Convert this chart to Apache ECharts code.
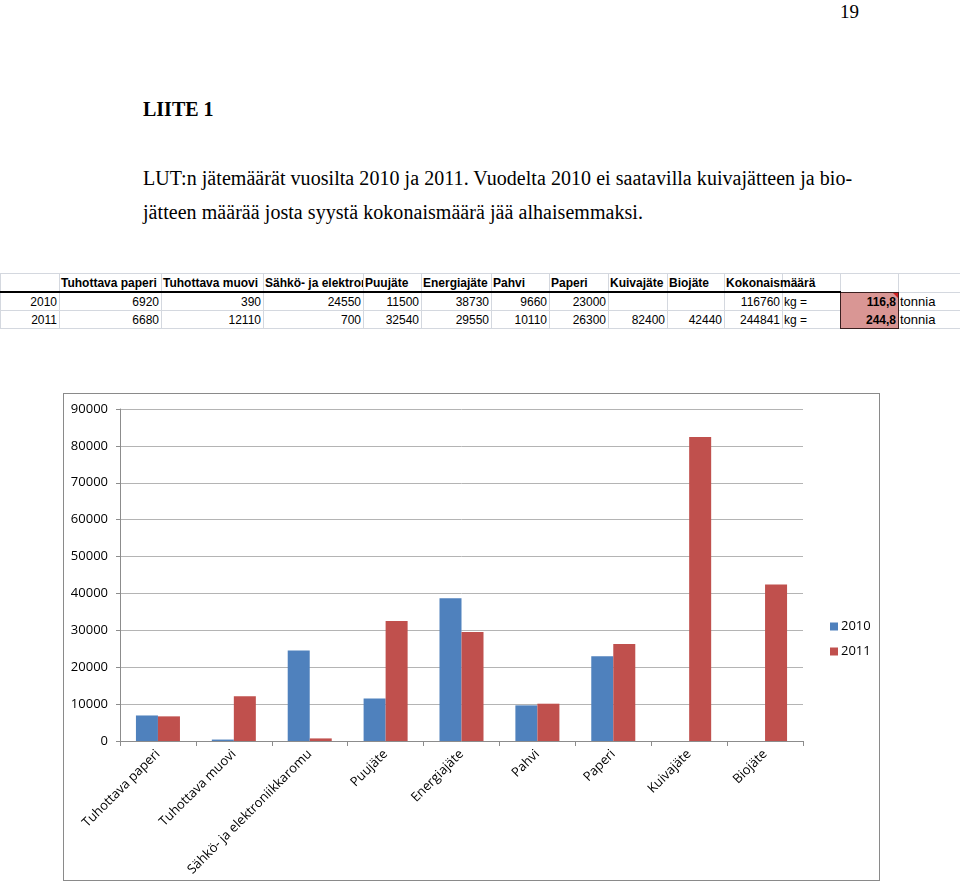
<!DOCTYPE html>
<html>
<head>
<meta charset="utf-8">
<script src="https://cdn.jsdelivr.net/npm/echarts@6/dist/echarts.min.js"></script>
<style>
  html, body { margin: 0; padding: 0; background: #fff; }
  body { width: 960px; height: 882px; position: relative; overflow: hidden; }
  .serif { position: absolute; font-family: "Liberation Serif", "Times New Roman", serif; color: #000; line-height: 1; white-space: nowrap; }
  .cell { position: absolute; box-sizing: border-box; font-family: "Liberation Sans", Arial, sans-serif; font-size: 12px; line-height: 18px; height: 18px; white-space: nowrap; color: #000; padding: 0 2px; }
  .gl { position: absolute; background: #d4d8df; }
  #chart { position: absolute; left: 63px; top: 393px; width: 815px; height: 486px; border: 1px solid #8a8a8a; box-sizing: content-box; }
</style>
</head>
<body>
<div class="serif" style="left:840px; top:2px; font-size:19px;">19</div>
<div class="serif" style="left:143px; top:99px; font-size:20px; font-weight:bold;">LIITE 1</div>
<div class="serif" id="p1" style="left:143px; top:168px; font-size:20px; letter-spacing:0.05px;">LUT:n jätemäärät vuosilta 2010 ja 2011. Vuodelta 2010 ei saatavilla kuivajätteen ja bio-</div>
<div class="serif" id="p2" style="left:143px; top:202px; font-size:20px; letter-spacing:0.05px;">jätteen määrää josta syystä kokonaismäärä jää alhaisemmaksi.</div>
<div id="table"></div>
<div id="chart"></div>
<script>
// ---- data ----
const categories = ['Tuhottava paperi', 'Tuhottava muovi', 'Sähkö- ja elektroniikkaromu', 'Puujäte', 'Energiajäte', 'Pahvi', 'Paperi', 'Kuivajäte', 'Biojäte'];
const years = ['2010', '2011'];
const values2010 = [6920, 390, 24550, 11500, 38730, 9660, 23000, null, null];
const values2011 = [6680, 12110, 700, 32540, 29550, 10110, 26300, 82400, 42440];
const totalsKg = [116760, 244841];
const totalsTonnes = ['116,8', '244,8'];
const yTicks = [0, 10000, 20000, 30000, 40000, 50000, 60000, 70000, 80000, 90000];

// ---- table ----
(function buildTable() {
  const cols = [0, 59, 161, 263, 363, 421, 491, 549, 608, 667, 724, 782, 840, 898, 960];
  const rows = [273, 292, 310, 328];
  const t = document.getElementById('table');
  function add(html) { t.insertAdjacentHTML('beforeend', html); }
  rows.forEach(y => add(`<div class="gl" style="left:0;top:${y}px;width:960px;height:1px"></div>`));
  cols.forEach(x => add(`<div class="gl" style="left:${x}px;top:${rows[0]}px;width:1px;height:${rows[3]-rows[0]}px"></div>`));
  add(`<div style="position:absolute;left:840px;top:292px;width:59px;height:37px;background:#d99694;box-sizing:border-box;border:1.5px solid #3a2020"></div>`);
  add(`<div style="position:absolute;left:893px;top:293px;width:0;height:0;border-left:5px solid transparent;border-top:5px solid #d02020"></div>`);
  add(`<div style="position:absolute;left:0;top:291px;width:841px;height:2px;background:#000"></div>`);
  const headers = categories.concat(['Kokonaismäärä']);
  headers.forEach((h, i) => {
    const x0 = cols[i + 1], x1 = cols[i + 2];
    const clip = (i === 2) ? 'overflow:hidden;' : '';
    const w = (i === 9) ? 120 : (x1 - x0);
    add(`<div class="cell" style="left:${x0}px;top:${rows[0]+1}px;width:${w}px;font-weight:bold;${clip}">${h}</div>`);
  });
  const data = [values2010, values2011];
  years.forEach((yr, r) => {
    const top = rows[r + 1] + 1;
    add(`<div class="cell" style="left:0;top:${top}px;width:59px;text-align:right">${yr}</div>`);
    data[r].forEach((v, i) => {
      if (v == null) return;
      add(`<div class="cell" style="left:${cols[i+1]}px;top:${top}px;width:${cols[i+2]-cols[i+1]}px;text-align:right">${v}</div>`);
    });
    add(`<div class="cell" style="left:724px;top:${top}px;width:58px;text-align:right">${totalsKg[r]}</div>`);
    add(`<div class="cell" style="left:782px;top:${top}px;width:58px">kg =</div>`);
    add(`<div class="cell" style="left:840px;top:${top}px;width:58px;text-align:right;font-weight:bold">${totalsTonnes[r]}</div>`);
    add(`<div class="cell" style="left:898px;top:${top}px;width:62px;font-size:13px">tonnia</div>`);
  });
})();

// ---- chart ----
const chart = echarts.init(document.getElementById('chart'), null, { renderer: 'canvas' });
const font = '"Open Sans", sans-serif';
chart.setOption({
  animation: false,
  backgroundColor: '#fff',
  textStyle: { fontFamily: font },
  grid: { left: 56, top: 15, width: 683, height: 332, containLabel: false },
  legend: {
    orient: 'vertical', left: 761, top: 221, itemWidth: 8, itemHeight: 8, itemGap: 12,
    icon: 'rect', data: years,
    textStyle: { fontFamily: font, fontSize: 13, color: '#000', padding: [0, 0, 0, -2] }
  },
  xAxis: {
    type: 'category', data: categories,
    axisLine: { lineStyle: { color: '#8c8c8c', width: 1 } },
    axisTick: { show: true, length: 5, lineStyle: { color: '#8c8c8c' } },
    axisLabel: { rotate: 45, interval: 0, margin: 11, fontFamily: font, fontSize: 13, color: '#000' }
  },
  yAxis: {
    type: 'value', min: yTicks[0], max: yTicks[yTicks.length - 1], interval: yTicks[1] - yTicks[0],
    axisLine: { show: true, lineStyle: { color: '#8c8c8c', width: 1 } },
    axisTick: { show: true, length: 4, lineStyle: { color: '#8c8c8c' } },
    splitLine: { lineStyle: { color: '#b4b4b4', width: 1 } },
    axisLabel: { margin: 12, fontFamily: font, fontSize: 13, color: '#000', formatter: v => String(v) }
  },
  series: [
    { name: years[0], type: 'bar', data: values2010, itemStyle: { color: '#4f81bd' }, barGap: '0%', barCategoryGap: '42%' },
    { name: years[1], type: 'bar', data: values2011, itemStyle: { color: '#c0504d' }, barGap: '0%', barCategoryGap: '42%' }
  ]
});
</script>
</body>
</html>
